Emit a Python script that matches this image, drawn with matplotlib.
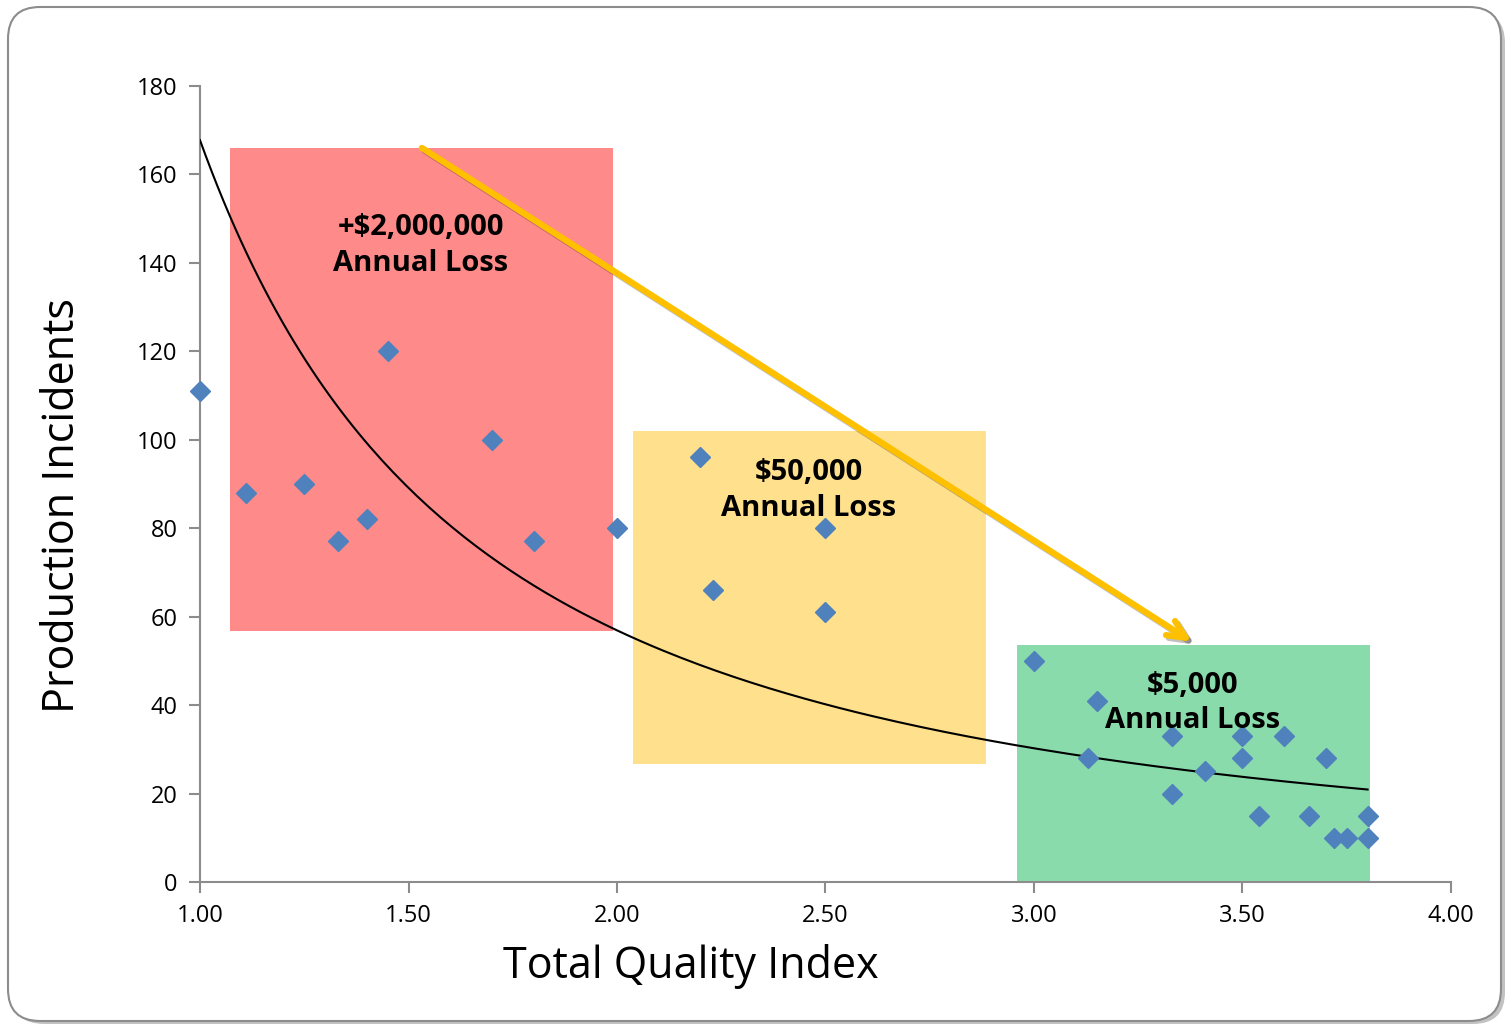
import numpy as np
import matplotlib.pyplot as plt
import matplotlib.patheffects as pe
from matplotlib.patches import Rectangle, FancyBboxPatch

plt.rcParams['font.family'] = ['Open Sans', 'DejaVu Sans']

# quality index vs number of incidents, one point per team
quality = [1.00, 1.11, 1.25, 1.33, 1.40, 1.45, 1.70, 1.80, 2.00,
           2.20, 2.23, 2.50, 2.50,
           3.00, 3.15, 3.13, 3.33, 3.33, 3.41, 3.50, 3.50, 3.54,
           3.60, 3.66, 3.70, 3.72, 3.75, 3.80, 3.80]
incidents = [111, 88, 90, 77, 82, 120, 100, 77, 80,
             96, 66, 80, 61,
             50, 41, 28, 33, 20, 25, 33, 28, 15,
             33, 15, 28, 10, 10, 15, 10]

# loss bands: (x0, x1, y0, y1), colour, label
band_bounds = [(1.072, 1.99, 56.8, 166.0),
               (2.038, 2.885, 26.7, 102.0),
               (2.96, 3.806, 0.0, 53.6)]
band_colors = ['#FF8A8A', '#FFE08C', '#8ADBAC']
band_labels = ['+$2,000,000\nAnnual Loss', '$50,000\nAnnual Loss', '$5,000\nAnnual Loss']
label_pos = [(1.53, 144.0), (2.46, 88.5), (3.38, 40.5)]

arrow_start = (1.532, 166.0)
arrow_end = (3.379, 54.3)

fig = plt.figure(figsize=(15.05, 10.24), dpi=100)

# rounded frame with a soft shadow
shadow = FancyBboxPatch((0.12, 0.0), 14.93, 10.13, boxstyle='round,pad=0,rounding_size=0.32',
                        transform=fig.dpi_scale_trans, facecolor='#9a9a9a', edgecolor='none',
                        alpha=0.6, zorder=0)
frame = FancyBboxPatch((0.08, 0.03), 14.93, 10.14, boxstyle='round,pad=0,rounding_size=0.32',
                       transform=fig.dpi_scale_trans, facecolor='white', edgecolor='#8c8c8c',
                       linewidth=1.5, zorder=1)
fig.patches.extend([shadow, frame])

ax = fig.add_axes([0.1329, 0.1387, 0.8312, 0.7773])
ax.set_facecolor('none')
ax.set_zorder(2)

for (x0, x1, y0, y1), c in zip(band_bounds, band_colors):
    ax.add_patch(Rectangle((x0, y0), x1 - x0, y1 - y0, facecolor=c, edgecolor='none', zorder=1))

# power trendline fitted in log-log space
b, log_a = np.polyfit(np.log(quality), np.log(incidents), 1)
xs = np.linspace(1.0, 3.8, 200)
ax.plot(xs, np.exp(log_a) * xs ** b, color='black', lw=1.5, zorder=3)

ax.plot(quality, incidents, linestyle='none', marker='D', markersize=10,
        color='#4F81BD', zorder=4, clip_on=False)

for txt, (tx, ty) in zip(band_labels, label_pos):
    ax.text(tx, ty, txt, ha='center', va='center', fontsize=21, fontweight='bold',
            linespacing=1.3, zorder=5)

ax.annotate('', xy=arrow_end, xytext=arrow_start, zorder=6,
            arrowprops=dict(arrowstyle='->,head_length=1.3,head_width=0.6',
                            color='#FFC000', lw=4.5, shrinkA=0, shrinkB=0,
                            path_effects=[pe.SimpleLineShadow(offset=(2, -2), alpha=0.25),
                                          pe.Normal()]))

ax.set_xlim(1.0, 4.0)
ax.set_ylim(0, 180)
ax.set_xticks([1.0, 1.5, 2.0, 2.5, 3.0, 3.5, 4.0])
ax.set_xticklabels(['%.2f' % v for v in [1.0, 1.5, 2.0, 2.5, 3.0, 3.5, 4.0]])
ax.set_yticks(range(0, 181, 20))
ax.tick_params(axis='both', direction='out', length=8, width=1.5, color='#8c8c8c',
               labelsize=17, pad=8)
for side in ['top', 'right']:
    ax.spines[side].set_visible(False)
for side in ['left', 'bottom']:
    ax.spines[side].set_color('#8c8c8c')
    ax.spines[side].set_linewidth(1.5)

# axis titles placed as free text
ax.text(0.392, -0.106, 'Total Quality Index', transform=ax.transAxes,
        ha='center', va='center', fontsize=31)
ax.text(-0.110, 0.4725, 'Production Incidents', transform=ax.transAxes,
        ha='center', va='center', rotation=90, fontsize=31)

fig.savefig('out.png', dpi=100)
